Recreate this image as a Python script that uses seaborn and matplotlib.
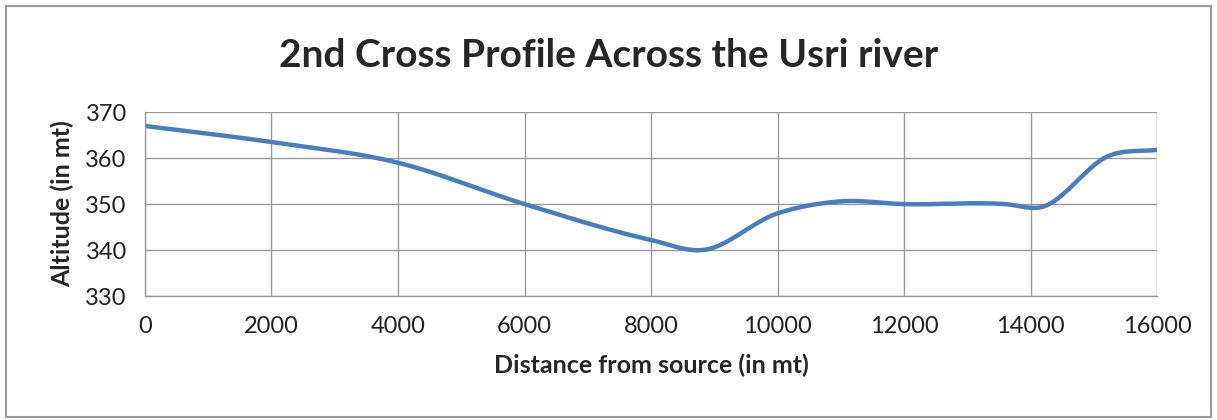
import numpy as np
import pandas as pd
import matplotlib
matplotlib.use("Agg")
import matplotlib.pyplot as plt
import seaborn as sns
from matplotlib.patches import Rectangle

# valores (distancia en m, altitud en m)
distance = [0, 2000, 4000, 6000, 8000, 8800, 10000, 11000, 12000, 13600, 14150, 15250, 16000]
altitude = [367, 363.5, 359, 350, 342.2, 340, 348, 350.6, 350, 350, 349.3, 360.6, 361.8]

x_ticks = [0, 2000, 4000, 6000, 8000, 10000, 12000, 14000, 16000]
y_ticks = [330, 340, 350, 360, 370]

title = "2nd Cross Profile Across the Usri river"
xlabel = "Distance from source (in mt)"
ylabel = "Altitude (in mt)"


def smooth(xs, ys, n=40):
    # curva suavizada (Hermite cubico con pendientes centrales), solo para el trazo
    xs, ys = np.asarray(xs, float), np.asarray(ys, float)
    m = np.gradient(ys, xs)
    m[0] = (ys[1] - ys[0]) / (xs[1] - xs[0])
    m[-1] = (ys[-1] - ys[-2]) / (xs[-1] - xs[-2])
    ox, oy = [], []
    t = np.linspace(0, 1, n)
    for i in range(len(xs) - 1):
        h = xs[i + 1] - xs[i]
        h00 = 2 * t**3 - 3 * t**2 + 1
        h10 = t**3 - 2 * t**2 + t
        h01 = -2 * t**3 + 3 * t**2
        h11 = t**3 - t**2
        ox.extend(xs[i] + t * h)
        oy.extend(h00 * ys[i] + h10 * h * m[i] + h01 * ys[i + 1] + h11 * h * m[i + 1])
    return np.array(ox), np.array(oy)


sx, sy = smooth(distance, altitude)
df = pd.DataFrame({"d": sx, "a": sy})

sns.set_style("white")
plt.rcParams['font.family'] = ['Lato', 'DejaVu Sans']

fig = plt.figure(figsize=(12.17, 4.2), dpi=100)
ax = fig.add_axes([0.119, 0.295, 0.832, 0.438])

sns.lineplot(data=df, x="d", y="a", ax=ax, color="#4a7ebb", linewidth=3.2, sort=False)

ax.set_xlim(0, 16000)
ax.set_ylim(330, 370)
ax.set_xticks(x_ticks)
ax.set_yticks(y_ticks)
ax.grid(True, color="#9a9a9a", linewidth=1)
for s in ["top", "right"]:
    ax.spines[s].set_visible(False)
for s in ["left", "bottom"]:
    ax.spines[s].set_color("#9a9a9a")
    ax.spines[s].set_linewidth(1)
ax.tick_params(axis="both", length=7, width=1, color="#9a9a9a", labelsize=17,
               labelcolor="#222222", direction="out")
ax.tick_params(axis="x", pad=7)
ax.tick_params(axis="y", pad=6)
ax.set_xlabel(xlabel, fontsize=18, fontweight="bold", labelpad=12)
ax.set_ylabel(ylabel, fontsize=18, fontweight="bold", labelpad=8)

fig.text(0.5, 0.868, title, ha="center", va="center", fontsize=28, fontweight="bold")

# marco exterior del grafico
fig.patches.append(Rectangle((0.005, 0.006), 0.99, 0.98, transform=fig.transFigure,
                             fill=False, edgecolor="#9a9a9a", linewidth=1.5))

fig.savefig("out.png", dpi=100)
